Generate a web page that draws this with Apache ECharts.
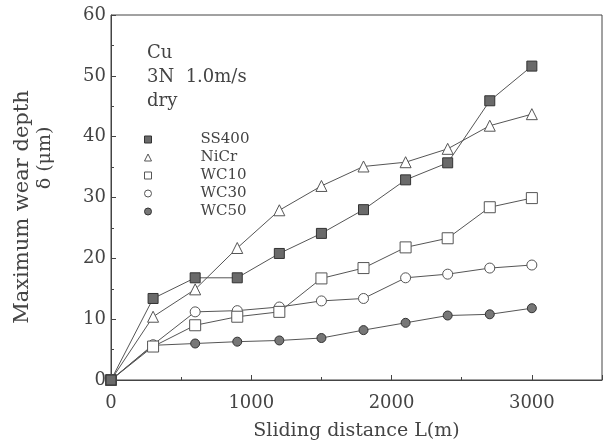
<!DOCTYPE html>
<html>
<head>
<meta charset="utf-8">
<script src="https://cdn.jsdelivr.net/npm/echarts@6/dist/echarts.min.js"></script>
<style>
  html, body { margin: 0; padding: 0; background: #fff; }
  #chart { width: 605px; height: 448px; }
</style>
</head>
<body>
<div id="chart"></div>
<script>
// Sliding distance (m) at which wear depth was measured
const distance = [0, 300, 600, 900, 1200, 1500, 1800, 2100, 2400, 2700, 3000];

// Maximum wear depth (µm) per counter material
const ss400 = [0, 13.4, 16.8, 16.8, 20.8, 24.1, 28.0, 32.9, 35.7, 45.9, 51.6];
const nicr  = [0, 10.4, 14.9, 21.7, 27.9, 31.9, 35.1, 35.8, 38.0, 41.8, 43.7];
const wc10  = [0, 5.5, 9.0, 10.4, 11.2, 16.7, 18.4, 21.8, 23.3, 28.4, 29.9];
const wc30  = [0, 5.8, 11.2, 11.4, 12.0, 13.0, 13.4, 16.8, 17.4, 18.4, 18.9];
const wc50  = [0, 5.7, 6.0, 6.3, 6.5, 6.9, 8.2, 9.4, 10.6, 10.8, 11.8];

const seriesNames = ['SS400', 'NiCr', 'WC10', 'WC30', 'WC50'];
const xTicks = [0, 1000, 2000, 3000];
const yTicks = [0, 10, 20, 30, 40, 50, 60];

const FONT = '"DejaVu Serif", "Liberation Serif", serif';
const INK = '#444';
const LINE = '#555';

function pairs(values) {
  return distance.map((d, i) => [d, values[i]]);
}

const styles = [
  { data: ss400, symbol: 'rect',     size: 10, fill: '#6a6a6a', stroke: '#333' },
  { data: nicr,  symbol: 'triangle', size: 11, fill: '#fff',    stroke: '#555' },
  { data: wc10,  symbol: 'rect',     size: 11, fill: '#fff',    stroke: '#555' },
  { data: wc30,  symbol: 'circle',   size: 10, fill: '#fff',    stroke: '#555' },
  { data: wc50,  symbol: 'circle',   size: 9,  fill: '#777',    stroke: '#333' }
];

const series = styles.map((s, i) => ({
  name: seriesNames[i],
  type: 'line',
  data: pairs(s.data),
  symbol: s.symbol,
  symbolSize: s.size,
  z: 10 - i,
  lineStyle: { color: LINE, width: 1 },
  itemStyle: { color: s.fill, borderColor: s.stroke, borderWidth: 1, opacity: 1 },
  emphasis: { disabled: true },
  animation: false
}));

const chart = echarts.init(document.getElementById('chart'), null, { renderer: 'canvas' });

chart.setOption({
  backgroundColor: '#fff',
  animation: false,
  grid: {
    left: 111, right: 3, top: 15, bottom: 68,
    show: true, borderColor: INK, borderWidth: 1, backgroundColor: 'transparent'
  },
  legend: {
    orient: 'vertical',
    left: 139,
    top: 127,
    itemWidth: 7,
    itemHeight: 7,
    itemGap: 3,
    selectedMode: false,
    data: seriesNames.map((n, i) => ({
      name: n,
      icon: styles[i].symbol,
      itemStyle: { color: styles[i].fill, borderColor: styles[i].stroke, borderWidth: 1 }
    })),
    textStyle: { fontFamily: FONT, fontSize: 15, color: INK, padding: [0, 0, 0, 44] }
  },
  xAxis: {
    type: 'value',
    min: 0,
    max: 3500,
    interval: 1000,
    name: 'Sliding distance L(m)',
    nameLocation: 'middle',
    nameGap: 42,
    nameTextStyle: { fontFamily: FONT, fontSize: 19, color: INK },
    axisLine: { show: true, lineStyle: { color: INK, width: 1 } },
    axisTick: { show: true, inside: true, length: 5, lineStyle: { color: INK } },
    minorTick: { show: true, splitNumber: 2, length: 3, lineStyle: { color: INK } },
    splitLine: { show: false },
    axisLabel: {
      fontFamily: FONT, fontSize: 18, color: INK, margin: 14,
      showMaxLabel: false,
      formatter: v => (xTicks.includes(v) ? String(v) : '')
    }
  },
  yAxis: {
    type: 'value',
    min: 0,
    max: 60,
    interval: 10,
    axisLine: { show: true, lineStyle: { color: INK, width: 1 } },
    axisTick: { show: true, inside: true, length: 5, lineStyle: { color: INK } },
    minorTick: { show: true, splitNumber: 2, length: 3, lineStyle: { color: INK } },
    splitLine: { show: false },
    axisLabel: {
      fontFamily: FONT, fontSize: 18, color: INK, margin: 5,
      formatter: v => (yTicks.includes(v) ? String(v) : '')
    }
  },
  graphic: [
    {
      type: 'text', x: 23, y: 207, rotation: Math.PI / 2,
      style: { text: 'Maximum wear depth', fontFamily: FONT, fontSize: 21, fill: INK,
               align: 'center', verticalAlign: 'middle' }
    },
    {
      type: 'text', x: 45, y: 158, rotation: Math.PI / 2,
      style: { text: 'δ (μm)', fontFamily: FONT, fontSize: 19, fill: INK,
               align: 'center', verticalAlign: 'middle' }
    },
    {
      type: 'text', left: 147, top: 41,
      style: { text: 'Cu\n3N  1.0m/s\ndry', fontFamily: FONT, fontSize: 18, lineHeight: 24,
               fill: INK }
    }
  ],
  series: series
});
</script>
</body>
</html>
